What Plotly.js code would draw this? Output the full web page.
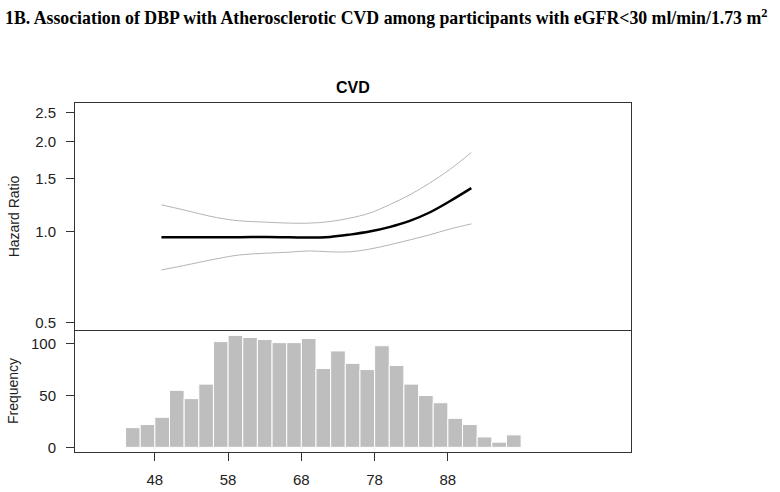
<!DOCTYPE html>
<html>
<head>
<meta charset="utf-8">
<script src="https://cdn.plot.ly/plotly-3.0.1.min.js"></script>
<style>html,body{margin:0;padding:0;background:#fff;}#chart{width:780px;height:492px;}</style>
</head>
<body>
<div id="chart"></div>
<script>
// Spline estimate of hazard ratio by DBP
const dbp      = [48.9, 51.9, 56.4, 59.6, 63.2, 66.4, 69.1, 71.9, 74.6, 77.3, 80.0, 82.8, 85.5, 88.2, 91.2];
const hr       = [0.960, 0.960, 0.960, 0.960, 0.962, 0.960, 0.957, 0.962, 0.979, 1.002, 1.037, 1.088, 1.160, 1.262, 1.398];
const hrUpper  = [1.230, 1.184, 1.116, 1.088, 1.077, 1.069, 1.069, 1.082, 1.111, 1.154, 1.230, 1.328, 1.453, 1.609, 1.838];
const hrLower  = [0.747, 0.772, 0.813, 0.838, 0.849, 0.856, 0.864, 0.858, 0.858, 0.876, 0.905, 0.940, 0.977, 1.021, 1.063];
// Histogram of DBP (bin width 2, starting at 44)
const binCenters = [45,47,49,51,53,55,57,59,61,63,65,67,69,71,73,75,77,79,81,83,85,87,89,91,93,95,97];
const binCounts  = [19,22,29,55,47,61,102,108,106,104,101,101,105,76,93,81,75,98,79,61,50,43,28,22,10,5,12];
// Tick labels
const hrTickVals  = [0.5, 1.0, 1.5, 2.0, 2.5];
const hrTickText  = ['0.5', '1.0', '1.5', '2.0', '2.5'];
const xTickVals   = [48, 58, 68, 78, 88];
const freqTickVals = [0, 50, 100];

const axisColor = '#333';
const sans = 'Liberation Sans, Arial, sans-serif';
const tickFont = {family: sans, size: 15, color: '#222'};

const traces = [
  {x: dbp, y: hrUpper, type: 'scatter', mode: 'lines', line: {color: '#b4b4b4', width: 1, shape: 'spline'}, xaxis: 'x', yaxis: 'y', hoverinfo: 'skip'},
  {x: dbp, y: hrLower, type: 'scatter', mode: 'lines', line: {color: '#b4b4b4', width: 1, shape: 'spline'}, xaxis: 'x', yaxis: 'y', hoverinfo: 'skip'},
  {x: dbp, y: hr, type: 'scatter', mode: 'lines', line: {color: '#000', width: 2.5, shape: 'spline'}, xaxis: 'x', yaxis: 'y'},
  {x: binCenters, y: binCounts, type: 'bar', width: 2, marker: {color: '#bebebe', line: {color: '#fff', width: 1}}, xaxis: 'x2', yaxis: 'y2'}
];

const xRange = [37.1, 113];
const split = 0.3496;

const layout = {
  width: 780, height: 492,
  margin: {l: 75, r: 149, t: 103, b: 40},
  paper_bgcolor: '#fff', plot_bgcolor: '#fff',
  showlegend: false,
  bargap: 0,
  title: {
    text: '<b>1B. Association of DBP with Atherosclerotic CVD among participants with eGFR&lt;30 ml/min/1.73 m<sup>2</sup></b>',
    font: {family: 'Liberation Serif, Times New Roman, serif', size: 17.8, color: '#000'},
    x: 5/780, xref: 'container', xanchor: 'left',
    y: 1 - 18/492, yref: 'container', yanchor: 'middle'
  },
  xaxis: {
    domain: [0, 1], range: xRange, anchor: 'y',
    showticklabels: false, ticks: '', showgrid: false, zeroline: false,
    showline: true, linecolor: axisColor, linewidth: 1, mirror: true
  },
  yaxis: {
    domain: [split, 1], type: 'log', range: [-0.3267, 0.4290], anchor: 'x',
    tickvals: hrTickVals, ticktext: hrTickText,
    ticks: 'outside', ticklen: 8, tickcolor: axisColor, tickfont: tickFont,
    ticklabelstandoff: 7,
    showgrid: false, zeroline: false,
    showline: true, linecolor: axisColor, linewidth: 1, mirror: true,
    title: {text: 'Hazard Ratio', font: {family: sans, size: 14, color: '#222'}, standoff: 12}
  },
  xaxis2: {
    domain: [0, 1], range: xRange, anchor: 'y2',
    tickvals: xTickVals, ticks: 'outside', ticklen: 8, tickcolor: axisColor,
    tickfont: tickFont,
    ticklabelstandoff: 6,
    showgrid: false, zeroline: false,
    showline: true, linecolor: axisColor, linewidth: 1, mirror: false
  },
  yaxis2: {
    domain: [0, split], range: [-4.5, 113.2], anchor: 'x2',
    tickvals: freqTickVals, ticks: 'outside', ticklen: 8, tickcolor: axisColor, tickfont: tickFont,
    ticklabelstandoff: 7,
    showgrid: false, zeroline: false,
    showline: true, linecolor: axisColor, linewidth: 1, mirror: true,
    title: {text: 'Frequency', font: {family: sans, size: 14, color: '#222'}, standoff: 9}
  },
  annotations: [
    {text: '<b>CVD</b>', x: 0.5, y: 1 + 16/349, xref: 'paper', yref: 'paper', xanchor: 'center', yanchor: 'middle', showarrow: false,
     font: {family: sans, size: 16, color: '#000'}}
  ]
};

Plotly.newPlot('chart', traces, layout, {displayModeBar: false, staticPlot: true});
</script>
</body>
</html>
